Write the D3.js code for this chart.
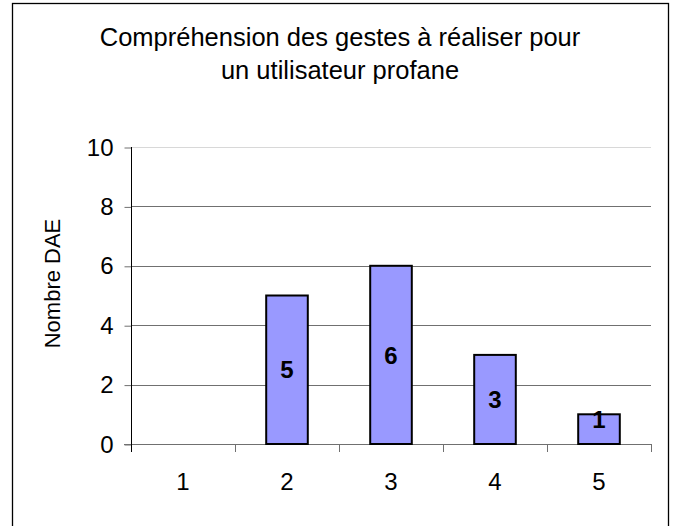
<!DOCTYPE html>
<html>
<head>
<meta charset="utf-8">
<script src="https://cdn.jsdelivr.net/npm/d3@7"></script>
<style>
  body { margin: 0; background: #fff; }
  svg { display: block; font-family: "Liberation Sans", Arial, sans-serif; }
</style>
</head>
<body>
<div class="chart"></div>
<script>
// data
const categories = ["1", "2", "3", "4", "5"];
const counts = [0, 5, 6, 3, 1];
const yTicks = [0, 2, 4, 6, 8, 10];
const titleLines = ["Compréhension des gestes à réaliser pour", "un utilisateur profane"];
const yTitle = "Nombre DAE";

let outWidth = 673, outHeight = 526;
let plot = {left: 131, right: 651, top: 147, bottom: 444};

const svg = d3.select(".chart").append("svg")
  .attr("width", outWidth)
  .attr("height", outHeight);

// outer chart frame
svg.append("rect")
  .attr("x", 12.5).attr("y", 3.5)
  .attr("width", 656).attr("height", 540)
  .attr("fill", "#fff")
  .attr("stroke", "#000")
  .attr("stroke-width", 1.3);

let xScale = d3.scaleBand()
  .domain(categories)
  .range([plot.left, plot.right])
  .paddingInner(0.6)
  .paddingOuter(0.3);

let yScale = d3.scaleLinear()
  .domain([0, 10])
  .range([plot.bottom, plot.top]);

// gridlines
svg.append("g").selectAll("line")
  .data(yTicks.filter(d => d > 0))
  .enter().append("line")
  .attr("x1", plot.left).attr("x2", plot.right)
  .attr("y1", d => Math.round(yScale(d)) + 0.5)
  .attr("y2", d => Math.round(yScale(d)) + 0.5)
  .attr("stroke", d => d == 10 ? "#d8d8d8" : "#707070")
  .attr("stroke-width", 1);

// y axis
const yAxis = d3.axisLeft(yScale)
  .tickValues(yTicks)
  .tickSize(7)
  .tickPadding(11);
const gy = svg.append("g")
  .attr("transform", `translate(${plot.left + 0.5},0.5)`)
  .call(yAxis);
gy.select(".domain").attr("stroke", "#000").attr("d", `M0,${plot.top}V${plot.bottom}`);
gy.selectAll(".tick line").attr("stroke", "#707070");
gy.selectAll("text")
  .attr("font-size", 24)
  .attr("font-family", "Liberation Sans, Arial, sans-serif")
  .attr("fill", "#000");

// x axis (ticks sit between categories)
const boundaries = categories.map(c => xScale(c) - xScale.step() * xScale.paddingInner() / 2)
  .concat([plot.right]);
const gx = svg.append("g");
gx.append("line")
  .attr("x1", plot.left - 7).attr("x2", plot.right)
  .attr("y1", plot.bottom + 0.5).attr("y2", plot.bottom + 0.5)
  .attr("stroke", "#707070");
gx.selectAll(".xt")
  .data(boundaries)
  .enter().append("line")
  .attr("x1", d => Math.round(d) + 0.5).attr("x2", d => Math.round(d) + 0.5)
  .attr("y1", plot.bottom).attr("y2", plot.bottom + 8)
  .attr("stroke", "#707070");
gx.selectAll("text")
  .data(categories)
  .enter().append("text")
  .attr("x", d => xScale(d) + xScale.bandwidth() / 2)
  .attr("y", 490)
  .attr("text-anchor", "middle")
  .attr("font-size", 24)
  .text(d => d);

// y axis line on top of gridlines
svg.append("line")
  .attr("x1", plot.left + 0.5).attr("x2", plot.left + 0.5)
  .attr("y1", plot.top).attr("y2", plot.bottom + 8)
  .attr("stroke", "#000");

// bars
const barData = categories.map((c, i) => ({cat: c, v: counts[i]})).filter(d => d.v > 0);
svg.append("g").selectAll("rect")
  .data(barData)
  .enter().append("rect")
  .attr("x", d => xScale(d.cat))
  .attr("y", d => yScale(d.v))
  .attr("width", xScale.bandwidth())
  .attr("height", d => yScale(0) - yScale(d.v))
  .attr("fill", "#9999ff")
  .attr("stroke", "#000")
  .attr("stroke-width", 2);

// value labels in the middle of each bar (short bars push the label up, like excel)
svg.append("g").selectAll("text")
  .data(barData)
  .enter().append("text")
  .attr("x", d => xScale(d.cat) + xScale.bandwidth() / 2)
  .attr("y", d => {
    let h = yScale(0) - yScale(d.v);
    return h < 40 ? yScale(d.v) + 5 : (yScale(d.v) + yScale(0)) / 2;
  })
  .attr("dy", "0.36em")
  .attr("text-anchor", "middle")
  .attr("font-size", 24)
  .attr("font-weight", "bold")
  .text(d => d.v);

// title
svg.append("g").selectAll("text")
  .data(titleLines)
  .enter().append("text")
  .attr("x", 340)
  .attr("y", (d, i) => 46 + i * 33)
  .attr("text-anchor", "middle")
  .attr("font-size", 25.5)
  .text(d => d);

// y title
svg.append("text")
  .attr("transform", `translate(60,${(plot.top + plot.bottom) / 2 - 12}) rotate(-90)`)
  .attr("text-anchor", "middle")
  .attr("font-size", 22)
  .text(yTitle);
</script>
</body>
</html>
